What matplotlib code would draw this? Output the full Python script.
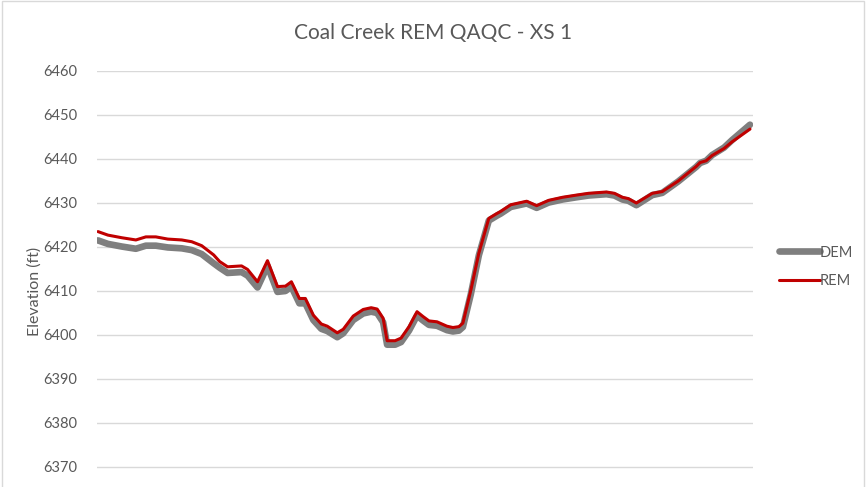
import matplotlib
matplotlib.use("Agg")
import matplotlib.pyplot as plt
from matplotlib.patches import Rectangle

# ------------------------------------
# Data (station in ft, elevations in ft)
# ------------------------------------
station = [0, 5, 12, 19, 24, 29, 35, 42, 47, 52, 58, 61, 65, 72, 75, 80,
           85, 90, 94, 97, 101, 104, 108, 112, 115, 120, 123, 128, 133, 137,
           140, 143, 145, 149, 152, 156, 160, 163, 166, 170, 175, 178, 181,
           183, 187, 191, 196, 200, 202, 207, 215, 220, 226, 233, 240, 246,
           255, 259, 263, 266, 270, 278, 283, 291, 300, 302, 305, 308, 314,
           318, 327]

rem = [6423.5, 6422.7, 6422.1, 6421.6, 6422.3, 6422.3, 6421.8, 6421.6,
       6421.2, 6420.3, 6418.2, 6416.7, 6415.5, 6415.7, 6414.9, 6412.1,
       6416.9, 6411.0, 6411.1, 6412.1, 6408.3, 6408.3, 6404.5, 6402.5,
       6402.0, 6400.5, 6401.3, 6404.3, 6405.8, 6406.2, 6405.9, 6403.8,
       6398.7, 6398.7, 6399.3, 6401.9, 6405.3, 6404.2, 6403.2, 6403.0,
       6402.0, 6401.7, 6401.9, 6402.7, 6410.2, 6418.6, 6426.5, 6427.6,
       6428.1, 6429.6, 6430.4, 6429.4, 6430.6, 6431.3, 6431.8, 6432.2,
       6432.5, 6432.2, 6431.3, 6431.0, 6430.0, 6432.2, 6432.6, 6435.0,
       6438.3, 6439.2, 6439.6, 6440.8, 6442.4, 6443.9, 6446.8]

dem = [6421.5, 6420.7, 6420.1, 6419.6, 6420.3, 6420.3, 6419.9, 6419.7,
       6419.3, 6418.4, 6416.3, 6415.3, 6414.1, 6414.3, 6413.5, 6410.8,
       6415.7, 6409.8, 6410.0, 6411.0, 6407.2, 6407.2, 6403.4, 6401.4,
       6400.9, 6399.5, 6400.4, 6403.4, 6404.9, 6405.3, 6405.0, 6402.9,
       6397.8, 6397.8, 6398.4, 6401.0, 6404.4, 6403.3, 6402.3, 6402.1,
       6401.1, 6400.8, 6401.0, 6401.8, 6409.3, 6418.1, 6426.0, 6427.1,
       6427.6, 6429.1, 6429.9, 6428.9, 6430.1, 6430.8, 6431.3, 6431.7,
       6432.0, 6431.7, 6430.8, 6430.5, 6429.5, 6431.8, 6432.3, 6434.9,
       6438.2, 6439.1, 6439.6, 6440.9, 6442.6, 6444.3, 6447.8]

yticks = list(range(6370, 6461, 10))

TEXT = "#595959"
GRID = "#d9d9d9"

plt.rcParams["font.family"] = ["Lato", "DejaVu Sans"]

# ------------------------------------
# Figure
# ------------------------------------
fig = plt.figure(figsize=(8.67, 4.87), dpi=100)
fig.patches.append(Rectangle((0.002, -0.1), 0.995, 1.097, transform=fig.transFigure,
                             fill=False, edgecolor=GRID, linewidth=1))

# axis spans 6360..6460, lower part runs off the bottom of the picture
ax_left = 97 / 867
ax_width = (753 - 97) / 867
ax_top = 1 - 71 / 487
ax_height = 100 * 4.4 / 487
ax = fig.add_axes([ax_left, ax_top - ax_height, ax_width, ax_height])

ax.plot(station, dem, color="#7f7f7f", linewidth=4.8,
        solid_capstyle="round", solid_joinstyle="round", label="DEM")
ax.plot(station, rem, color="#c00000", linewidth=2.2,
        solid_capstyle="round", solid_joinstyle="round", label="REM")

ax.set_ylim(6360, 6460)
ax.set_xlim(station[0] - 0.5, station[-1] + 1.5)
ax.set_yticks(yticks)
ax.set_xticks([])
ax.yaxis.grid(True, color=GRID, linewidth=1)
ax.set_axisbelow(True)
ax.tick_params(axis="y", length=0, pad=14, labelsize=10.5, labelcolor=TEXT)
for s in ax.spines.values():
    s.set_visible(False)

ax.set_ylabel("Elevation (ft)", fontsize=11.5, color=TEXT, labelpad=1)
fig.text(0.5, 1 - 33 / 487, "Coal Creek REM QAQC - XS 1", ha="center",
         va="center", fontsize=15, color=TEXT)

ax.legend(loc="center left", bbox_to_anchor=(1.02, 0.555), frameon=False,
          fontsize=10.5, labelcolor=TEXT, handlelength=2.8, handletextpad=0.0,
          labelspacing=1.0)

fig.savefig("out.png", dpi=100)
plt.close()
